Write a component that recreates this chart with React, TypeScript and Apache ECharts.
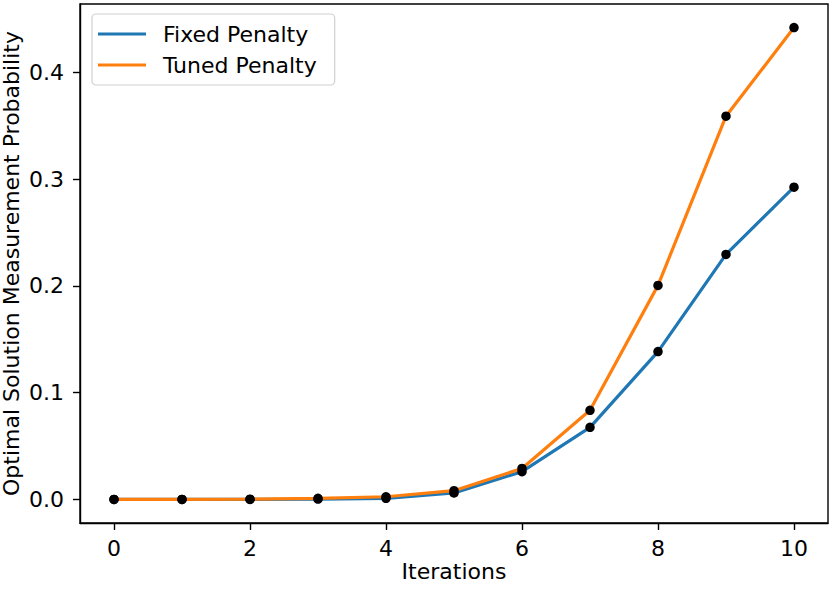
import React, { useEffect, useRef } from "react";
import * as echarts from "echarts";

const iterations = [0, 1, 2, 3, 4, 5, 6, 7, 8, 9, 10];
const fixedPenalty = [0.0, 0.0, 0.0, 0.0003, 0.001, 0.006, 0.026, 0.0675, 0.1385, 0.2295, 0.2925];
const tunedPenalty = [0.0, 0.0, 0.0002, 0.001, 0.0025, 0.0082, 0.029, 0.0835, 0.2005, 0.359, 0.442];
const xTicks = [0, 2, 4, 6, 8, 10];
const yTicks = [0, 0.1, 0.2, 0.3, 0.4];

const FONT = "DejaVu Sans";
const FS = 22;

export default function App() {
  const ref = useRef<HTMLDivElement>(null);
  useEffect(() => {
    if (!ref.current) return;
    const chart = echarts.init(ref.current, undefined, { renderer: "svg" });
    const fixedPts = iterations.map((x, i) => [x, fixedPenalty[i]]);
    const tunedPts = iterations.map((x, i) => [x, tunedPenalty[i]]);
    const yMax = Math.max(...tunedPenalty, ...fixedPenalty);
    const pad = yMax * 0.05;
    const axisCommon = {
      axisLine: { show: true, onZero: false, lineStyle: { color: "#000", width: 1.4 } },
      splitLine: { show: false },
      nameMoveOverlap: false,
    };
    chart.setOption({
      animation: false,
      backgroundColor: "#fff",
      textStyle: { fontFamily: FONT },
      grid: {
        left: 80,
        right: 3,
        top: 4,
        bottom: 67,
        outerBoundsMode: "none",
        containLabel: false,
        show: true,
        borderColor: "#000",
        borderWidth: 1.4,
        backgroundColor: "transparent",
      },
      legend: {
        orient: "vertical",
        left: 92,
        top: 14,
        data: [
          { name: "Fixed Penalty", itemStyle: { color: "#1f77b4" } },
          { name: "Tuned Penalty", itemStyle: { color: "#ff7f0e" } },
        ],
        icon: "rect",
        itemWidth: 48,
        itemHeight: 3,
        itemGap: 9,
        padding: [9, 18, 9, 6],
        backgroundColor: "#fff",
        borderColor: "#d0d0d0",
        borderWidth: 1.2,
        borderRadius: 4,
        textStyle: { fontFamily: FONT, fontSize: FS, color: "#000", padding: [0, 0, 0, 12] },
      },
      xAxis: {
        type: "value",
        min: -0.5,
        max: 10.5,
        name: "Iterations",
        nameLocation: "middle",
        nameGap: 37,
        nameTextStyle: { fontFamily: FONT, fontSize: FS, color: "#000" },
        ...axisCommon,
        axisTick: { show: true, length: 7, lineStyle: { color: "#000", width: 1.4 }, customValues: xTicks },
        axisLabel: {
          customValues: xTicks,
          fontFamily: FONT,
          fontSize: FS,
          color: "#000",
          margin: 14,
          formatter: (v: number) => String(v),
        },
      },
      yAxis: {
        type: "value",
        min: -pad,
        max: yMax + pad,
        name: "Optimal Solution Measurement Probability",
        nameLocation: "middle",
        nameGap: 58,
        nameTextStyle: { fontFamily: FONT, fontSize: FS, color: "#000" },
        ...axisCommon,
        axisTick: { show: true, length: 7, lineStyle: { color: "#000", width: 1.4 }, customValues: yTicks },
        axisLabel: {
          customValues: yTicks,
          fontFamily: FONT,
          fontSize: FS,
          color: "#000",
          margin: 16,
          formatter: (v: number) => v.toFixed(1),
        },
      },
      series: [
        {
          name: "Fixed Penalty",
          type: "line",
          data: fixedPts,
          showSymbol: false,
          lineStyle: { color: "#1f77b4", width: 3.2 },
          itemStyle: { color: "#1f77b4" },
          z: 2,
        },
        {
          name: "Tuned Penalty",
          type: "line",
          data: tunedPts,
          showSymbol: false,
          lineStyle: { color: "#ff7f0e", width: 3.2 },
          itemStyle: { color: "#ff7f0e" },
          z: 3,
        },
        {
          name: "fixedDots",
          type: "scatter",
          data: fixedPts,
          symbolSize: 9.5,
          itemStyle: { color: "#000", opacity: 1 },
          z: 4,
        },
        {
          name: "tunedDots",
          type: "scatter",
          data: tunedPts,
          symbolSize: 9.5,
          itemStyle: { color: "#000", opacity: 1 },
          z: 4,
        },
      ],
    });
    return () => chart.dispose();
  }, []);
  return (
    <div
      ref={ref}
      style={{ position: "fixed", left: 0, top: 0, width: 831, height: 590 }}
    />
  );
}
